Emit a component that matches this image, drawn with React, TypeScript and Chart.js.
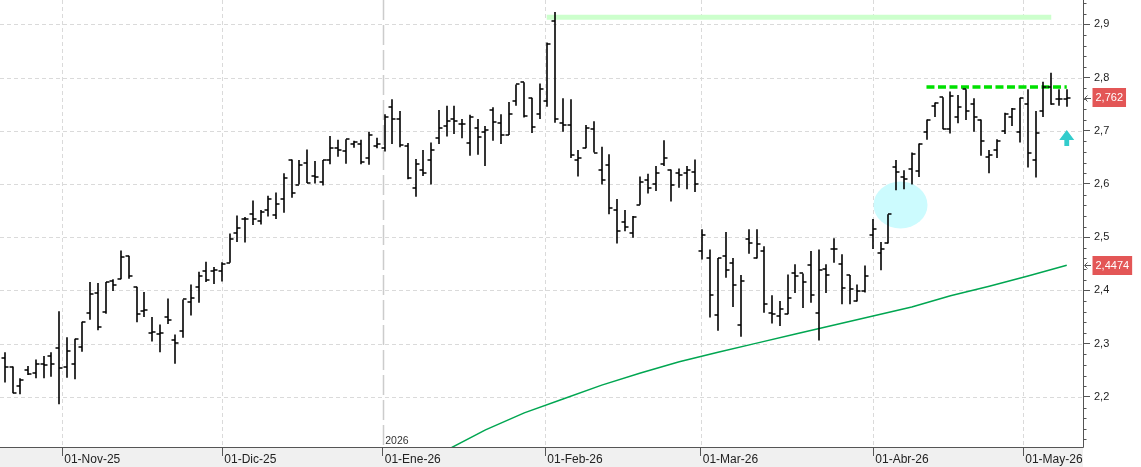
import { useEffect, useRef } from 'react';
import { Chart, registerables } from 'chart.js';

Chart.register(...registerables);

// ---- OHLC data (one entry per trading session, index = session number) ----
const opens = [
  2.273, 2.257, 2.220, 2.251, 2.245, 2.262, 2.276, 2.292, 2.256, 2.262,
  2.294, 2.358, 2.395, 2.360, 2.417, 2.422, 2.465, 2.407, 2.361, 2.320,
  2.319, 2.350, 2.306, 2.324, 2.378, 2.407, 2.436, 2.436, 2.437, 2.452,
  2.507, 2.534, 2.543, 2.530, 2.552, 2.541, 2.571, 2.646, 2.599, 2.639,
  2.615, 2.603, 2.646, 2.667, 2.662, 2.675, 2.675, 2.648, 2.671, 2.667,
  2.744, 2.723, 2.671, 2.592, 2.626, 2.645, 2.686, 2.709, 2.723, 2.712,
  2.677, 2.705, 2.698, 2.739, 2.714, 2.692, 2.756, 2.791, 2.762, 2.731,
  2.756, 2.906, 2.715, 2.711, 2.646, 2.667, 2.703, 2.627, 2.635, 2.551,
  2.528, 2.508, 2.561, 2.607, 2.600, 2.637, 2.627, 2.620, 2.621, 2.622,
  2.474, 2.460, 2.353, 2.464, 2.452, 2.335, 2.496, 2.460, 2.474, 2.358,
  2.352, 2.355, 2.432, 2.432, 2.447, 2.358, 2.441, 2.477, 2.449, 2.429,
  2.380, 2.398, 2.504, 2.470, 2.489, 2.631, 2.613, 2.629, 2.624, 2.698,
  2.746, 2.763, 2.704, 2.725, 2.778, 2.751, 2.721, 2.651, 2.664, 2.699,
  2.726, 2.698, 2.751, 2.646, 2.737, 2.783, 2.759, 2.759,
];
const highs = [
  2.284, 2.257, 2.235, 2.258, 2.270, 2.277, 2.284, 2.361, 2.312, 2.309,
  2.341, 2.416, 2.414, 2.416, 2.421, 2.475, 2.465, 2.407, 2.397, 2.350,
  2.336, 2.385, 2.317, 2.383, 2.411, 2.435, 2.454, 2.444, 2.453, 2.507,
  2.541, 2.538, 2.569, 2.551, 2.578, 2.584, 2.620, 2.646, 2.645, 2.665,
  2.643, 2.645, 2.690, 2.683, 2.684, 2.681, 2.683, 2.698, 2.687, 2.731,
  2.759, 2.737, 2.677, 2.647, 2.664, 2.678, 2.739, 2.747, 2.747, 2.722,
  2.730, 2.722, 2.709, 2.744, 2.731, 2.754, 2.787, 2.791, 2.762, 2.789,
  2.866, 2.923, 2.761, 2.759, 2.664, 2.711, 2.718, 2.670, 2.656, 2.572,
  2.551, 2.540, 2.614, 2.619, 2.634, 2.682, 2.627, 2.629, 2.634, 2.646,
  2.515, 2.477, 2.461, 2.510, 2.461, 2.429, 2.515, 2.515, 2.483, 2.391,
  2.380, 2.430, 2.449, 2.432, 2.474, 2.477, 2.449, 2.498, 2.468, 2.429,
  2.411, 2.447, 2.534, 2.491, 2.543, 2.645, 2.626, 2.659, 2.676, 2.721,
  2.753, 2.763, 2.774, 2.767, 2.778, 2.761, 2.721, 2.664, 2.684, 2.734,
  2.743, 2.762, 2.778, 2.737, 2.792, 2.809, 2.778, 2.778,
];
const lows = [
  2.227, 2.207, 2.205, 2.241, 2.235, 2.235, 2.238, 2.186, 2.236, 2.233,
  2.285, 2.345, 2.325, 2.356, 2.399, 2.421, 2.422, 2.340, 2.350, 2.304,
  2.284, 2.337, 2.262, 2.311, 2.353, 2.377, 2.416, 2.412, 2.417, 2.452,
  2.491, 2.490, 2.523, 2.524, 2.539, 2.534, 2.546, 2.574, 2.599, 2.602,
  2.601, 2.597, 2.637, 2.651, 2.638, 2.668, 2.637, 2.636, 2.667, 2.661,
  2.675, 2.669, 2.609, 2.576, 2.615, 2.599, 2.675, 2.689, 2.694, 2.686,
  2.653, 2.655, 2.634, 2.681, 2.675, 2.692, 2.747, 2.725, 2.696, 2.722,
  2.745, 2.715, 2.698, 2.649, 2.614, 2.667, 2.659, 2.599, 2.543, 2.488,
  2.511, 2.499, 2.561, 2.582, 2.587, 2.634, 2.567, 2.593, 2.590, 2.585,
  2.458, 2.349, 2.324, 2.424, 2.369, 2.313, 2.469, 2.460, 2.358, 2.338,
  2.333, 2.355, 2.395, 2.367, 2.377, 2.306, 2.395, 2.452, 2.374, 2.374,
  2.379, 2.396, 2.478, 2.438, 2.488, 2.588, 2.590, 2.599, 2.613, 2.683,
  2.726, 2.703, 2.695, 2.714, 2.720, 2.698, 2.653, 2.620, 2.649, 2.694,
  2.709, 2.678, 2.631, 2.612, 2.726, 2.749, 2.747, 2.745,
];
const closes = [
  2.257, 2.207, 2.232, 2.243, 2.262, 2.259, 2.262, 2.254, 2.287, 2.309,
  2.341, 2.394, 2.331, 2.416, 2.411, 2.463, 2.427, 2.356, 2.364, 2.322,
  2.320, 2.345, 2.301, 2.383, 2.386, 2.427, 2.419, 2.438, 2.450, 2.496,
  2.517, 2.534, 2.534, 2.548, 2.571, 2.562, 2.611, 2.583, 2.636, 2.602,
  2.614, 2.645, 2.668, 2.663, 2.684, 2.678, 2.642, 2.692, 2.675, 2.726,
  2.722, 2.673, 2.611, 2.637, 2.620, 2.664, 2.705, 2.718, 2.718, 2.712,
  2.725, 2.688, 2.702, 2.716, 2.692, 2.731, 2.787, 2.728, 2.707, 2.778,
  2.863, 2.722, 2.711, 2.654, 2.648, 2.706, 2.659, 2.607, 2.554, 2.511,
  2.519, 2.538, 2.603, 2.592, 2.620, 2.648, 2.598, 2.617, 2.627, 2.600,
  2.504, 2.392, 2.461, 2.438, 2.410, 2.417, 2.490, 2.488, 2.375, 2.355,
  2.366, 2.385, 2.427, 2.415, 2.392, 2.438, 2.429, 2.477, 2.404, 2.402,
  2.399, 2.428, 2.515, 2.478, 2.543, 2.623, 2.609, 2.656, 2.676, 2.721,
  2.753, 2.703, 2.765, 2.745, 2.738, 2.725, 2.681, 2.654, 2.681, 2.731,
  2.740, 2.761, 2.658, 2.696, 2.783, 2.751, 2.759, 2.762,
];

// ---- long moving average, read at sampled sessions ----
const maIndex = [57, 62, 67, 72, 77, 82, 87, 92, 97, 102, 107, 112, 117, 122, 127, 132, 137];
const maValues = [2.100, 2.138, 2.170, 2.196, 2.222, 2.245, 2.266, 2.284, 2.301, 2.318, 2.335, 2.352, 2.369, 2.390, 2.408, 2.427, 2.4474];

// ---- drawn annotations (session index / price) ----
const topBandIndex = [69.9, 135.0];
const topBandValue = [2.9134, 2.9134];
const resistIndex = [118.9, 137.0];
const resistValue = [2.782, 2.782];
const ellipseCenterIndex = [115.55];
const ellipseCenterValue = [2.5605];
const arrowIndex = [137];
const arrowValue = [2.7014];

// ---- axes ----
const monthTickPos = [7.39, 28.04, 48.74, 69.72, 89.77, 112.04, 131.39];
const monthLabels = ['01-Nov-25', '01-Dic-25', '01-Ene-26', '01-Feb-26', '01-Mar-26', '01-Abr-26', '01-May-26'];
const yearMarkerTick = [2];
const yearLabels = ['2026'];
const yTickValues = [2.2, 2.3, 2.4, 2.5, 2.6, 2.7, 2.8, 2.9];
const xRange = [-0.645, 139.097];
const yRange = [2.1058, 2.9457];

const FONT = '"Liberation Sans", Arial, sans-serif';

const fmt = (v: number, d: number) => v.toFixed(d).replace('.', ',');

const backgroundPlugin = {
  id: 'bgPlugin',
  beforeDraw(chart: any) {
    const { ctx, chartArea } = chart;
    ctx.save();
    ctx.fillStyle = '#f0f0f0';
    ctx.fillRect(0, chartArea.bottom, chartArea.right, chart.height - chartArea.bottom);
    ctx.restore();
  },
  beforeDatasetsDraw(chart: any) {
    const { ctx, chartArea, scales } = chart;
    const xs = scales.x;
    const ys = scales.y;
    ctx.save();
    ctx.beginPath();
    ctx.rect(chartArea.left, chartArea.top, chartArea.right - chartArea.left, chartArea.bottom - chartArea.top);
    ctx.clip();
    ctx.strokeStyle = '#dadada';
    ctx.lineWidth = 1;
    ctx.setLineDash([4, 3]);
    yTickValues.forEach((v) => {
      const y = Math.round(ys.getPixelForValue(v)) + 0.5;
      ctx.beginPath();
      ctx.moveTo(chartArea.left, y);
      ctx.lineTo(chartArea.right, y);
      ctx.stroke();
    });
    monthTickPos.forEach((p, i) => {
      const x = Math.round(xs.getPixelForValue(p)) + 0.5;
      ctx.beginPath();
      if (yearMarkerTick.includes(i)) {
        ctx.strokeStyle = '#cccccc';
        ctx.lineWidth = 1.5;
        ctx.setLineDash([20, 5]);
      } else {
        ctx.strokeStyle = '#dadada';
        ctx.lineWidth = 1;
        ctx.setLineDash([4, 3]);
      }
      ctx.moveTo(x, chartArea.top);
      ctx.lineTo(x, chartArea.bottom);
      ctx.stroke();
    });
    ctx.setLineDash([]);
    ctx.fillStyle = '#333';
    ctx.font = '10.5px ' + FONT;
    ctx.textBaseline = 'alphabetic';
    yearMarkerTick.forEach((ti, k) => {
      const x = xs.getPixelForValue(monthTickPos[ti]);
      ctx.fillText(yearLabels[k], x + 2.5, chartArea.bottom - 3);
    });
    ctx.fillStyle = '#ccfbfe';
    ellipseCenterIndex.forEach((ci, k) => {
      const cx = xs.getPixelForValue(ci);
      const cy = ys.getPixelForValue(ellipseCenterValue[k]);
      ctx.beginPath();
      ctx.ellipse(cx, cy, 27, 23.5, 0, 0, Math.PI * 2);
      ctx.fill();
    });
    ctx.restore();
  },
  afterDatasetsDraw(chart: any) {
    const { ctx, chartArea, scales } = chart;
    const xs = scales.x;
    const ys = scales.y;
    ctx.save();
    ctx.beginPath();
    ctx.rect(chartArea.left, chartArea.top, chartArea.right - chartArea.left, chartArea.bottom - chartArea.top);
    ctx.clip();
    ctx.strokeStyle = '#000';
    ctx.lineCap = 'butt';
    for (let i = 0; i < closes.length; i++) {
      const x = Math.round(xs.getPixelForValue(i));
      const yH = ys.getPixelForValue(highs[i]);
      const yL = ys.getPixelForValue(lows[i]);
      const yO = Math.round(ys.getPixelForValue(opens[i]));
      const yC = Math.round(ys.getPixelForValue(closes[i]));
      ctx.lineWidth = 1.6;
      ctx.beginPath();
      ctx.moveTo(x, yH);
      ctx.lineTo(x, yL);
      ctx.stroke();
      ctx.lineWidth = 1.4;
      ctx.beginPath();
      ctx.moveTo(x - 3.5, yO);
      ctx.lineTo(x, yO);
      ctx.moveTo(x, yC);
      ctx.lineTo(x + 3.5, yC);
      ctx.stroke();
    }
    ctx.fillStyle = '#33cccc';
    arrowIndex.forEach((ai, k) => {
      const x = xs.getPixelForValue(ai);
      const y = ys.getPixelForValue(arrowValue[k]);
      ctx.beginPath();
      ctx.moveTo(x, y);
      ctx.lineTo(x + 7.5, y + 10);
      ctx.lineTo(x + 2.4, y + 10);
      ctx.lineTo(x + 2.4, y + 16);
      ctx.lineTo(x - 2.4, y + 16);
      ctx.lineTo(x - 2.4, y + 10);
      ctx.lineTo(x - 7.5, y + 10);
      ctx.closePath();
      ctx.fill();
    });
    ctx.restore();
  },
  afterDraw(chart: any) {
    const { ctx, chartArea, scales } = chart;
    const ys = scales.y;
    ctx.save();
    ctx.fillStyle = '#ffffff';
    ctx.fillRect(chartArea.right + 0.5, chartArea.bottom + 0.5, chart.width - chartArea.right, chart.height - chartArea.bottom);
    ctx.strokeStyle = '#555';
    ctx.lineWidth = 1;
    for (let k = 0; k <= 45; k++) {
      const v = 2.1 + k * 0.02;
      if (k % 5 === 0) continue;
      if (v < yRange[0] || v > yRange[1]) continue;
      const y = Math.round(ys.getPixelForValue(v)) + 0.5;
      ctx.beginPath();
      ctx.moveTo(chartArea.right, y);
      ctx.lineTo(chartArea.right + 3.5, y);
      ctx.stroke();
    }
    const tags = [
      { v: closes[closes.length - 1], t: fmt(closes[closes.length - 1], 3) },
      { v: maValues[maValues.length - 1], t: fmt(maValues[maValues.length - 1], 4) },
    ];
    ctx.font = '11px ' + FONT;
    tags.forEach((tg) => {
      const y = ys.getPixelForValue(tg.v);
      const w = ctx.measureText(tg.t).width + 6;
      const bx = chartArea.right + 9.5;
      ctx.fillStyle = '#e35656';
      ctx.fillRect(bx, Math.round(y - 9.5), w, 19);
      ctx.fillStyle = '#ffffff';
      ctx.textBaseline = 'middle';
      ctx.textAlign = 'left';
      ctx.fillText(tg.t, bx + 3, y + 0.5);
      ctx.strokeStyle = '#555';
      ctx.lineWidth = 1;
      const ay = Math.round(y) + 0.5;
      ctx.beginPath();
      ctx.moveTo(chartArea.right + 2, ay);
      ctx.lineTo(chartArea.right + 8, ay);
      ctx.moveTo(chartArea.right + 4.5, ay - 3);
      ctx.lineTo(chartArea.right + 1.5, ay);
      ctx.lineTo(chartArea.right + 4.5, ay + 3);
      ctx.stroke();
    });
    ctx.restore();
  },
};

export default function App() {
  const ref = useRef<HTMLCanvasElement | null>(null);
  useEffect(() => {
    const canvas = ref.current;
    if (!canvas) return;
    const chart = new Chart(canvas, {
      type: 'line',
      data: {
        datasets: [
          {
            label: 'Media',
            data: maIndex.map((x, i) => ({ x, y: maValues[i] })),
            borderColor: '#00a651',
            borderWidth: 1.5,
            pointRadius: 0,
            tension: 0,
          },
          {
            label: 'Máximo',
            data: topBandIndex.map((x, i) => ({ x, y: topBandValue[i] })),
            borderColor: '#ccffcc',
            borderWidth: 5,
            borderCapStyle: 'butt',
            pointRadius: 0,
          },
          {
            label: 'Resistencia',
            data: resistIndex.map((x, i) => ({ x, y: resistValue[i] })),
            borderColor: '#00e000',
            borderWidth: 3.5,
            borderDash: [8, 3.5],
            borderCapStyle: 'butt',
            pointRadius: 0,
          },
        ],
      },
      options: {
        responsive: false,
        animation: false,
        devicePixelRatio: 1,
        layout: { padding: 0 },
        plugins: { legend: { display: false }, tooltip: { enabled: false } },
        scales: {
          x: {
            type: 'linear',
            position: 'bottom',
            min: xRange[0],
            max: xRange[1],
            afterBuildTicks: (s: any) => {
              s.ticks = monthTickPos.map((v) => ({ value: v }));
            },
            afterFit: (s: any) => {
              s.height = 20;
              s.paddingLeft = 0;
              s.paddingRight = 0;
              s.paddingTop = 0;
              s.paddingBottom = 0;
            },
            ticks: {
              autoSkip: false,
              maxRotation: 0,
              minRotation: 0,
              align: 'start',
              labelOffset: 2,
              padding: -4,
              color: '#222',
              font: { family: FONT, size: 12 },
              callback: (_v: any, i: number) => monthLabels[i],
            },
            grid: { drawOnChartArea: false, drawTicks: true, tickLength: 9, tickColor: '#555', tickWidth: 1 },
            border: { display: true, color: '#555', width: 1 },
          },
          y: {
            type: 'linear',
            position: 'right',
            min: yRange[0],
            max: yRange[1],
            afterBuildTicks: (s: any) => {
              s.ticks = yTickValues.map((v) => ({ value: v }));
            },
            afterFit: (s: any) => {
              s.width = 58;
              s.paddingLeft = 0;
              s.paddingRight = 0;
              s.paddingTop = 0;
              s.paddingBottom = 0;
            },
            ticks: {
              color: '#222',
              padding: 4,
              font: { family: FONT, size: 11 },
              callback: (v: any) => fmt(Number(v), 1),
            },
            grid: { drawOnChartArea: false, drawTicks: true, tickLength: 7, tickColor: '#555', tickWidth: 1 },
            border: { display: true, color: '#555', width: 1 },
          },
        },
      } as any,
      plugins: [backgroundPlugin],
    });
    return () => chart.destroy();
  }, []);
  return (
    <div style={{ position: 'absolute', left: 0, top: 0, width: 1141, height: 467, background: '#fff' }}>
      <canvas ref={ref} width={1141} height={467} style={{ display: 'block' }} />
    </div>
  );
}
